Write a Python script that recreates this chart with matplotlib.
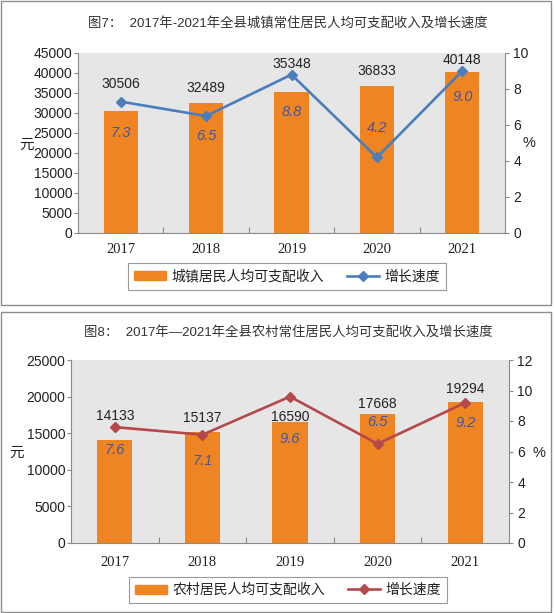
import matplotlib
matplotlib.use('Agg')
import matplotlib.pyplot as plt
from matplotlib.patches import Rectangle
import numpy as np

plt.rcParams['font.family'] = ['Liberation Sans', 'Noto Sans CJK SC', 'DejaVu Sans']

years = ['2017', '2018', '2019', '2020', '2021']

# 图7 城镇
urban_income = [30506, 32489, 35348, 36833, 40148]
urban_growth = [7.3, 6.5, 8.8, 4.2, 9.0]
# 图8 农村
rural_income = [14133, 15137, 16590, 17668, 19294]
rural_growth = [7.6, 7.1, 9.6, 6.5, 9.2]

W, H = 554, 613
BAR = '#EF8522'
BG = '#E6E6E6'
SPINE = '#8A8A8A'
TXT = '#222222'
PCT = '#3A58A6'
CJK = ['Noto Sans CJK SC', 'DejaVu Sans']


def px(x, y):
    return x / W, 1 - y / H


def Panel(Fig, Rect, Income, Growth, LineColor, Ymax, Ystep, Rmax,
          ValueDy, PctDy, Title, TitleY, BarName, LegendXY, YuanXY, PctXY,
          XPad, RPad):
    Ax = Fig.add_axes(Rect)
    X = np.arange(len(years))
    Ax.bar(X, Income, width=0.4, color=BAR, zorder=2)
    Ax.set_xlim(-0.5, len(years) - 0.5)
    Ax.set_ylim(0, Ymax)
    Ax.set_yticks(np.arange(0, Ymax + 1, Ystep))
    Ax.set_facecolor(BG)
    Ax.set_xticks(X)
    Ax.set_xticklabels(years, family='Liberation Serif', fontsize=10.5, color=TXT)
    Ax.set_xticks(np.arange(0.5, len(years) - 0.5), minor=True)
    Ax.tick_params(axis='x', which='major', length=0, pad=XPad)
    Ax.tick_params(axis='x', which='minor', direction='in', length=4, color=SPINE, width=0.8)
    Ax.tick_params(axis='y', direction='out', length=3, pad=1, color=SPINE, width=0.8,
                   labelsize=10, labelcolor=TXT)
    for S in ['top', 'right']:
        Ax.spines[S].set_visible(False)
    for S in ['left', 'bottom']:
        Ax.spines[S].set_color(SPINE)
        Ax.spines[S].set_linewidth(0.8)

    Ax2 = Ax.twinx()
    Ax2.set_ylim(0, Rmax)
    Ax2.set_yticks(np.arange(0, Rmax + 1, 2))
    Ax2.tick_params(axis='y', direction='out', length=3, pad=RPad, color=SPINE, width=0.8,
                    labelsize=10, labelcolor=TXT)
    for S in ['top', 'left', 'bottom']:
        Ax2.spines[S].set_visible(False)
    Ax2.spines['right'].set_color(SPINE)
    Ax2.spines['right'].set_linewidth(0.8)
    Ln, = Ax2.plot(X, Growth, color=LineColor, lw=1.9, marker='D', markersize=5, zorder=3)

    for I in range(len(years)):
        Ax2.annotate(f'{Income[I]}', xy=(X[I], Income[I]), xycoords=Ax.transData,
                     xytext=(0, ValueDy[I]), textcoords='offset pixels',
                     ha='center', va='center', fontsize=10, color=TXT, zorder=5)
        Ax2.annotate(f'{Growth[I]:.1f}', xy=(X[I], Income[I]), xycoords=Ax.transData,
                     xytext=(0, -PctDy[I]), textcoords='offset pixels',
                     ha='center', va='center', fontsize=10.5, color=PCT,
                     style='italic', zorder=5)

    Fig.text(*px(288, TitleY), Title, ha='center', va='center', fontsize=9.6, color='#333333')
    Fig.text(*px(*YuanXY), '元', ha='center', va='center', fontsize=10.5, color=TXT, family=CJK)
    Fig.text(*px(*PctXY), '%', ha='center', va='center', fontsize=10.5, color=TXT)

    Bh = plt.Rectangle((0, 0), 1, 1, color=BAR)
    Leg = Ax2.legend([Bh, Ln], [BarName, '增长速度'], loc='center',
                     bbox_to_anchor=px(*LegendXY), bbox_transform=Fig.transFigure,
                     ncol=2, frameon=True, fancybox=False, edgecolor='#9A9A9A',
                     framealpha=1, handlelength=2.3, handleheight=0.6,
                     columnspacing=1.6, borderpad=0.45, handletextpad=0.4,
                     prop={'family': CJK, 'size': 10})
    Leg.get_frame().set_linewidth(0.8)
    for T in Leg.get_texts():
        T.set_color(TXT)
    return Ax


Fig = plt.figure(figsize=(W / 100, H / 100), dpi=100)

Panel(Fig, [78 / W, 1 - 233 / H, 427 / W, 180 / H], urban_income, urban_growth,
      '#4A7EBB', 45000, 5000, 10,
      [27, 15, 28, 15, 12], [22, 33, 20, 42, 25],
      '图7：  2017年-2021年全县城镇常住居民人均可支配收入及增长速度', 24,
      '城镇居民人均可支配收入', (287, 276.5), (27, 145), (529, 143), 7, 3)

Panel(Fig, [71 / W, 1 - 543 / H, 438 / W, 183 / H], rural_income, rural_growth,
      '#B5484A', 25000, 5000, 12,
      [24, 14, 5, 10, 13], [10, 29, 17, 8, 21],
      '图8：  2017年—2021年全县农村常住居民人均可支配收入及增长速度', 332,
      '农村居民人均可支配收入', (288, 590), (17, 453), (539, 453), 9, 3)

for Y0, Y1 in [(1, 305), (312, 612)]:
    Fig.add_artist(Rectangle(px(1, Y1), 550 / W, (Y1 - Y0) / H, transform=Fig.transFigure,
                             fill=False, edgecolor='#8C8C8C', lw=1))

Fig.savefig('out.png', dpi=100)
